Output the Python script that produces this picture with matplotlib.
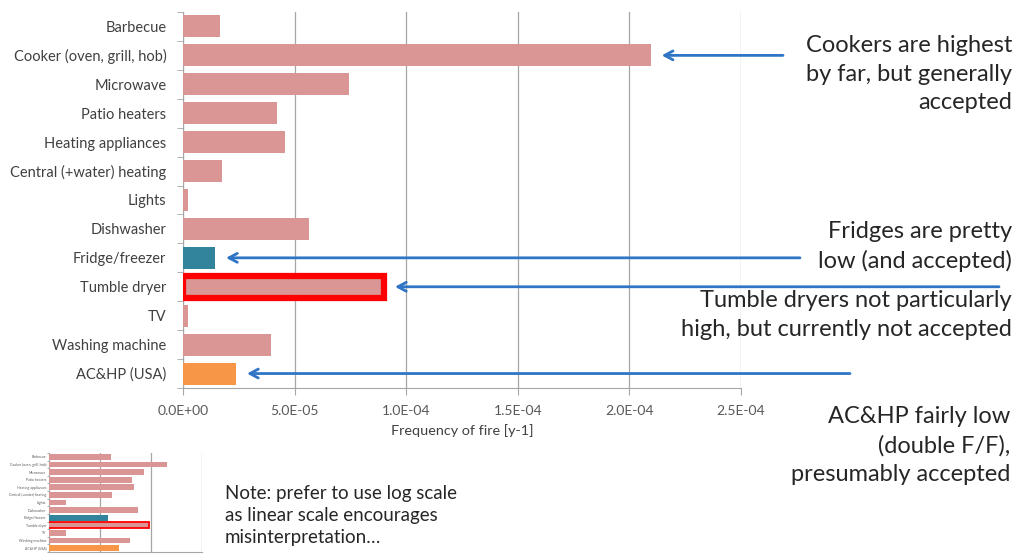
import matplotlib
matplotlib.use('Agg')
import matplotlib.pyplot as plt
from matplotlib.ticker import FuncFormatter, MultipleLocator, NullLocator, FixedLocator

plt.rcParams['font.family'] = ['Lato', 'DejaVu Sans']

# data
categories = ['Barbecue', 'Cooker (oven, grill, hob)', 'Microwave', 'Patio heaters',
              'Heating appliances', 'Central (+water) heating', 'Lights', 'Dishwasher',
              'Fridge/freezer', 'Tumble dryer', 'TV', 'Washing machine', 'AC&HP (USA)']
frequency = [1.66e-5, 2.095e-4, 7.43e-5, 4.2e-5, 4.57e-5, 1.75e-5, 2.2e-6, 5.64e-5,
             1.43e-5, 9.0e-5, 2.2e-6, 3.94e-5, 2.37e-5]

PINK = '#D99694'
bar_colors = [PINK] * len(categories)
bar_colors[categories.index('Fridge/freezer')] = '#31849B'
bar_colors[categories.index('AC&HP (USA)')] = '#F79646'
highlight = 'Tumble dryer'

notes = [
    ('Cooker (oven, grill, hob)', 783, 'Cookers are highest\nby far, but generally\naccepted', 1012, 35),
    ('Fridge/freezer', 800, 'Fridges are pretty\nlow (and accepted)', 1012, 221),
    ('Tumble dryer', 999, 'Tumble dryers not particularly\nhigh, but currently not accepted', 1012, 290),
    ('AC&HP (USA)', 850, 'AC&HP fairly low\n(double F/F),\npresumably accepted', 1010, 406),
]
note_text = 'Note: prefer to use log scale\nas linear scale encourages\nmisinterpretation\u2026'

W, H = 1015, 554
GRID = '#A6A6A6'
ARROW = '#2E75C6'


def frac(x0, y0, x1, y1):
    # pixel box (top-left origin) -> figure fraction rect
    return [x0 / W, 1 - y1 / H, (x1 - x0) / W, (y1 - y0) / H]


def draw_bars(ax, lw_hl):
    pos = list(range(len(categories)))
    bars = ax.barh(pos, frequency, height=0.76, color=bar_colors, zorder=3)
    i = categories.index(highlight)
    bars[i].set_edgecolor('#FF0000')
    bars[i].set_linewidth(lw_hl)
    ax.set_ylim(len(categories) - 0.5, -0.5)
    ax.set_yticks(pos)
    ax.yaxis.set_minor_locator(FixedLocator([p - 0.5 for p in range(len(categories) + 1)]))
    ax.tick_params(axis='y', which='major', length=0)
    ax.tick_params(axis='y', which='minor', length=4, color=GRID, direction='out')
    for s in ['top', 'right']:
        ax.spines[s].set_visible(False)
    ax.spines['left'].set_color(GRID)
    ax.spines['bottom'].set_color(GRID)
    ax.grid(axis='x', color=GRID, lw=0.9, zorder=0)
    ax.set_axisbelow(True)
    return pos


fig = plt.figure(figsize=(W / 100, H / 100), dpi=100)

# main linear chart
ax = fig.add_axes(frac(183, 12, 741, 388))
pos = draw_bars(ax, 4.5)
ax.set_yticklabels(categories, fontsize=10.5, color='#404040')
ax.tick_params(axis='y', which='major', pad=12)
ax.set_xlim(0, 2.5e-4)
ax.xaxis.set_major_locator(MultipleLocator(5e-5))
ax.xaxis.set_major_formatter(FuncFormatter(lambda v, p: f'{v:.1E}'))
ax.tick_params(axis='x', length=5, color=GRID, labelsize=10, labelcolor='#595959', pad=7)
ax.set_xlabel('Frequency of fire [y-1]', fontsize=10.4, color='#404040', labelpad=5)

# arrows and comments
for cat, tail_x, txt, tx, ty in notes:
    ax.annotate('', xy=(frequency[categories.index(cat)], categories.index(cat)),
                xytext=(tail_x / W, categories.index(cat)),
                textcoords=('figure fraction', 'data'), annotation_clip=False,
                arrowprops=dict(arrowstyle='->,head_length=0.6,head_width=0.32',
                                color=ARROW, lw=2, shrinkA=0, shrinkB=8))
    fig.text(tx / W, 1 - ty / H, txt, ha='right', va='top', fontsize=17,
             color='#262626', linespacing=1.45)

# small log-scale inset
ax2 = fig.add_axes(frac(49, 453, 202, 552))
draw_bars(ax2, 1.3)
ax2.set_yticklabels(categories, fontsize=2.5, color='#595959')
ax2.set_xscale('log')
ax2.set_xlim(1e-6, 1e-3)
ax2.xaxis.set_major_locator(FixedLocator([1e-6, 1e-5, 1e-4, 1e-3]))
ax2.xaxis.set_minor_locator(NullLocator())
ax2.tick_params(axis='x', length=0, labelbottom=False)
ax2.tick_params(axis='y', which='minor', length=1.5)
ax2.tick_params(axis='y', which='major', pad=2)

fig.text(225 / W, 1 - 485 / H, note_text, ha='left', va='top', fontsize=13.5,
         color='#262626', linespacing=1.35)

fig.savefig('out.png', dpi=100)
